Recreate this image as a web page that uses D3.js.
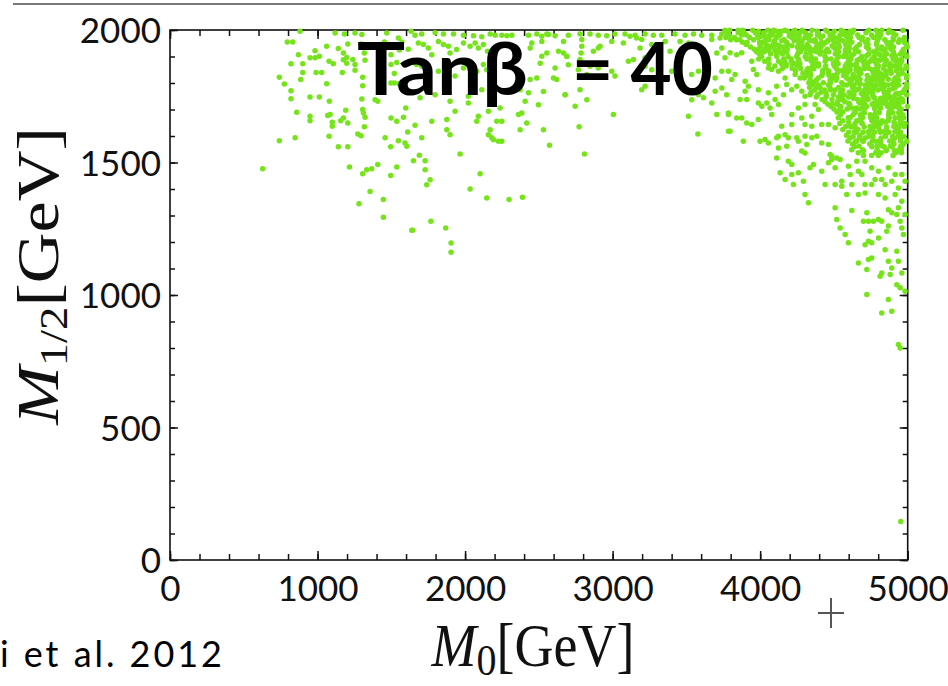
<!DOCTYPE html>
<html><head><meta charset="utf-8">
<script src="https://cdn.jsdelivr.net/npm/d3@7/dist/d3.min.js"></script>
<style>html,body{margin:0;padding:0;background:#fff}svg{display:block}</style>
</head><body>
<svg id="chart" width="948" height="686"></svg>
<script>
// ---------- data ----------
const xMajorTicks = [0, 1000, 2000, 3000, 4000, 5000];
const yMajorTicks = [0, 500, 1000, 1500, 2000];
const xMinorTicks = d3.range(0, 5001, 200);
const yMinorTicks = d3.range(0, 2001, 100);
const titleText = "Tanβ";
const titleValue = "= 40";
const citeText = "i et al. 2012";

// sparse cloud, left part [M0, M1/2]
const sparseLeft = [
[795,1955],[832,1955],[881,1995],[870,1907],[820,1873],[900,1873],[741,1822],[775,1796],[820,1771],[820,1741],[886,1813],[900,1840],[859,1690],[949,1747],[1012,1747],[949,1675],[949,1658],[741,1582],[848,1593],[628,1476],[949,1895],[983,1895],[1012,1901],[983,1922],[1062,1939],[1141,1930],[1175,1913],[1198,1896],[1175,1888],[1078,1882],[1107,1873],[990,1840],[1028,1840],[1062,1797],[1168,1840],[1254,1870],[1254,1848],[1239,1889],[1205,1947],[1119,1989],[1182,1985],[1300,1983],[1295,1947],[1317,1913],[1322,1886],[1306,1822],[1306,1790],[1300,1740],[1080,1731],[1069,1677],[1085,1681],[1100,1652],[1100,1637],[1157,1658],[1175,1668],[1191,1697],[1205,1649],[1078,1599],[1141,1559],[1205,1559],[1306,1700],[1322,1671],[1311,1687],[1317,1635],[1273,1608],[1295,1601],[1216,1483],[1306,1458],[1333,1473],[1367,1476],[1408,1492],[1356,1391],[1281,1344],[1446,1360],[1446,1293],[1496,1451],[1537,1483],[1458,1593],[1496,1559],[1548,1582],[1593,1574],[1605,1561],[1611,1615],[1498,1668],[1537,1656],[1582,1671],[1598,1706],[1650,1507],[1639,1244],[1390,1737],[1408,1731],[1520,1836],[1497,1800],[1520,1800],[1552,1797],[1498,1907],[1498,1870],[1537,1877],[1548,1970],[1571,1955],[1555,1925],[1453,1955],[1469,1989],[1634,1995],[1615,1927],[1254,1989],[1198,1875]
];
// sparse cloud, middle part
const sparseMid = [
[1661,1980],[1706,1985],[1797,1990],[1853,1985],[1921,1985],[1989,1980],[2057,1978],[2113,1975],[2170,1985],[2204,1980],[2249,1980],[2283,1978],[2317,1980],[2430,1980],[2486,1985],[2554,1985],[2610,1978],
[1683,1951],[1717,1945],[1751,1932],[1774,1907],[1819,1957],[1853,1945],[1887,1939],[1898,1913],[1943,1926],[1989,1951],[2034,1939],[2068,1951],[2090,1932],[2124,1945],[2152,1920],
[1672,1870],[1706,1863],[1819,1844],[1876,1882],[1932,1826],[1989,1857],[2079,1844],[2147,1850],[2124,1870],
[1695,1744],[1797,1756],[1898,1731],[2022,1725],[2022,1750],[2113,1775],[2237,1706],
[1932,1693],[1876,1662],[1876,1624],[1898,1605],[1774,1656],[1661,1641],[1706,1593],
[2090,1675],[2079,1656],[2158,1693],[2215,1656],[2249,1656],
[2170,1624],[2158,1605],[2192,1586],[2226,1580],[2249,1580],[2181,1593],
[2362,1681],[2384,1687],[2418,1649],[2373,1624],
[2407,1731],[2373,1775],[2430,1763],[2531,1624],[2572,1565],
[2497,1718],[2531,1768],[2486,1819],[2441,1813],[2599,1819],[2621,1813],[2678,1756],[2667,1913],[2689,1901],[2610,1857],[2509,1875],[2520,1901],
[2452,1951],[2441,1932],[2520,1976],[2520,1957],[2554,1913],[2633,1920],[2667,1957],[2565,1983],
[1966,1532],[1690,1527],[1729,1507],[1729,1473],[1763,1435],[1740,1416],
[2102,1458],[2034,1400],[2147,1366],[2298,1360],[2389,1369],
[1768,1278],[1869,1253],[1645,1244],[1905,1196],[1905,1161]
];
// sparse cloud, right-middle part
const sparseRight = [
[2700,1980],[2779,1985],[2847,1985],[2903,1980],[2960,1978],[3016,1985],[3084,1985],[3152,1980],[3220,1985],[3276,1980],[3333,1980],[3423,1985],[3491,1980],[3548,1985],[3604,1980],[3672,1980],[3740,1985],
[2791,1964],[2791,1939],[2786,1913],[2779,1889],[2870,1920],[2903,1932],[2915,1939],[2994,1957],[3073,1951],[3118,1976],[3163,1970],[3197,1964],[3186,1932],[3265,1945],[3356,1957],[3389,1920],[3457,1957],[3514,1951],[3559,1945],[3672,1964],[3728,1970],[3740,1932],[3706,1913],
[2689,1900],[2700,1869],[2768,1850],[2825,1832],[2847,1863],[2903,1857],[2994,1844],[3016,1826],[3107,1882],[3141,1889],[3220,1895],[3220,1863],[3265,1850],[3333,1819],[3401,1844],[3536,1832],[3582,1844],[3627,1794],[3695,1819],[3740,1844],[3762,1895],[3740,1781],[3695,1769],
[2678,1756],[2746,1712],[2825,1737],[2779,1775],[3197,1775],[3220,1788],[3536,1737],[3582,1756],[3616,1744],[3672,1725],[3706,1681],[3785,1687],[3785,1618],[3514,1675],[3578,1608],[3005,1681],[2773,1635],[2809,1532]
];
// sparse cloud around the dense corner
const sparseEdge = [
[3796,1914],[3841,1907],[3875,1914],[3785,1844],[3830,1832],[3807,1813],[3898,1807],[3943,1882],[3954,1851],[3977,1832],[3920,1788],[3898,1769],[3864,1738],[3909,1738],[3773,1756],[3785,1681],[3841,1668],[3875,1668],[3909,1649],[3943,1643],[3796,1618],[3886,1580],[3988,1662],[3999,1580],[4033,1587],[4056,1574],[3988,1725],[4011,1712],[4045,1725],[4067,1706],[4078,1681],[4101,1738],[4124,1719],[4056,1763],[4112,1788],[4158,1756],[4214,1775],[4248,1788],[4282,1769],[4180,1794],[3988,1775],[4078,1851],[4056,1857],[4124,1844],[4169,1819],[4237,1832],[4271,1819],[4304,1750],[4338,1756],[4372,1719],[4304,1719],[4259,1706],[4214,1681],[4282,1668],[4350,1675],[4395,1700],[4417,1643],[4350,1637],[4304,1643],[4214,1643],[4146,1637],[4124,1599],[4112,1593],[4169,1605],[4191,1593],[4248,1593],[4304,1599],[4350,1593],[4384,1599],[4316,1568],[4259,1580],[4282,1543],[4304,1536],[4180,1561],[4124,1555],[4112,1517],[4191,1505],[4214,1492],[4135,1461],[4169,1436],[4214,1455],[4259,1461],[4293,1429],[4225,1417],[4304,1379],[4327,1348],[4361,1492],[4338,1480],[4417,1467],[4440,1417],[4508,1417],[4553,1410],[4474,1530],[4485,1511],[4519,1517],[4417,1574],[4463,1568],[4508,1631],[4463,1643],
[4508,1329],[4519,1285],[4542,1253],[4576,1228],[4598,1197],[4621,1319],[4700,1278],[4734,1278],[4768,1278],[4802,1285],[4824,1278],[4723,1310],[4745,1241],[4869,1322],[4892,1310],[4937,1329],[4926,1304],[4869,1260],[4858,1241],[4802,1215],[4756,1197],[4711,1190],[4734,1203],[4666,1121],[4734,1134],[4756,1140],[4723,1096],[4824,1083],[4813,1071],[4869,1127],[4892,1102],[4881,1077],[4847,1171],[4926,1165],[4937,1127],[4960,1083],[4926,1039],[4949,1027],[4982,1014],[4869,983],[4723,1002],[4824,932],[4892,939],[4937,813],[4949,800],[4960,1253],[4971,1228],[4949,1278],[4982,1304],
[4610,1455],[4666,1467],[4689,1455],[4711,1417],[4756,1417],[4779,1436],[4824,1436],[4847,1417],[4892,1429],[4937,1404],[4621,1417],[4587,1379],[4666,1379],[4711,1385],[4802,1379],[4847,1366],[4915,1379],[4960,1354],[4553,1429],[4508,1480],[4463,1499],[4485,1524],[4542,1511],[4598,1486],[4655,1505],[4711,1505],[4756,1480],[4802,1467],[4869,1480],[4915,1455],[4960,1455],[4982,1429],
[4953,145]
];
// dense corner: rows of [M1/2, [M0 ...]]
const denseRows = [
[1999,[3762,3793,3851,3882,3949,4052,4092,4168,4235,4284,4351,4445,4548,4633,4736,4785,4825,4874,4968]],
[1990,[3775,3851,3891,3967,4025,4074,4123,4217,4266,4306,4391,4494,4561,4583,4623,4717,4811,4869,4900]],
[1981,[3790,3875,3906,3982,4085,4134,4237,4340,4389,4474,4541,4572,4594,4661,4755,4795,4817,4920]],
[1972,[3768,3826,3929,3987,4045,4112,4215,4255,4304,4326,4411,4505,4536,4612,4670,4692,4768,4808,4902,4978]],
[1963,[3800,3840,3862,3956,4059,4162,4256,4332,4372,4466,4488,4537,4595,4689,4729,4796,4845,4903,4943,4974]],
[1954,[3880,3911,3996,4018,4094,4179,4282,4376,4416,4447,4505,4599,4621,4715,4791,4858,4889,4938,4978]],
[1945,[3905,3999,4039,4088,4110,4186,4262,4320,4405,4427,4530,4579,4673,4731,4789,4865,4887,4990]],
[1936,[3935,4002,4069,4091,4158,4252,4292,4332,4381,4412,4497,4537,4604,4653,4720,4823,4881,4903,4997]],
[1927,[3960,3991,4031,4125,4183,4277,4308,4339,4370,4455,4513,4580,4602,4642,4736,4794,4825,4847,4887,4972]],
[1918,[3975,3997,4028,4131,4180,4274,4341,4381,4412,4443,4465,4532,4599,4666,4769,4845,4903,4961]],
[1909,[3995,4071,4111,4151,4254,4312,4406,4509,4576,4634,4737,4786,4808,4857,4951,4982]],
[1900,[4010,4113,4189,4247,4305,4345,4439,4533,4564,4586,4689,4774,4841,4917,4993]],
[1891,[3990,4057,4160,4209,4258,4316,4374,4450,4481,4521,4615,4673,4758,4825,4901,4959]],
[1882,[4030,4124,4164,4213,4262,4347,4441,4517,4602,4696,4745,4776,4852,4919,4959]],
[1873,[4060,4145,4176,4216,4238,4269,4372,4394,4497,4528,4586,4653,4729,4787,4881,4948]],
[1864,[4100,4176,4252,4355,4395,4444,4502,4578,4600,4649,4707,4801,4877,4908,4930,4988]],
[1855,[4150,4217,4275,4324,4364,4440,4516,4574,4668,4708,4739,4788,4837,4940,4989]],
[1846,[4240,4316,4338,4423,4463,4539,4561,4601,4659,4762,4793,4851,4882,4922]],
[1837,[4290,4339,4424,4464,4522,4589,4683,4768,4790,4812,4888,4964]],
[1828,[4320,4342,4418,4467,4498,4565,4632,4726,4820,4851,4936,4994]],
[1819,[4300,4394,4488,4519,4586,4626,4648,4751,4791,4813,4916,4992]],
[1810,[4340,4380,4474,4514,4617,4657,4724,4782,4804,4907,4938]],
[1801,[4330,4361,4428,4477,4553,4611,4660,4736,4821,4915]],
[1792,[4355,4395,4462,4565,4587,4636,4712,4734,4756,4787,4818,4867,4916,4938]],
[1783,[4335,4384,4406,4473,4531,4625,4719,4759,4781,4839,4915,4991]],
[1774,[4370,4437,4477,4508,4557,4651,4709,4740,4798,4874,4977]],
[1765,[4345,4412,4443,4546,4604,4635,4702,4733,4764,4840,4862,4965]],
[1756,[4390,4448,4497,4546,4568,4635,4720,4760,4845,4867,4916,4992]],
[1747,[4380,4447,4532,4599,4702,4769,4872,4903]],
[1738,[4420,4487,4536,4558,4661,4701,4732,4826,4902,4933,4964]],
[1729,[4440,4525,4574,4668,4699,4802,4851,4891,4967]],
[1720,[4460,4491,4522,4607,4710,4759,4790,4812,4879,4910,4941]],
[1711,[4480,4547,4605,4699,4721,4806,4864,4922,4998]],
[1702,[4500,4540,4589,4674,4777,4880,4956]],
[1691,[4520,4560,4645,4703,4806,4873,4949]],
[1680,[4545,4630,4679,4746,4777,4871,4965]],
[1669,[4530,4597,4682,4749,4789,4874,4914,4972]],
[1658,[4560,4654,4757,4788,4828,4868,4953]],
[1647,[4540,4643,4692,4786,4817,4911,4960,4982]],
[1636,[4580,4611,4642,4745,4803,4906,4937,4977]],
[1625,[4560,4663,4757,4806,4855,4931]],
[1614,[4600,4649,4698,4774,4814,4872,4930,4952]],
[1603,[4585,4676,4758,4849,4940]],
[1592,[4610,4674,4711,4820,4911,4948]],
[1581,[4595,4650,4696,4760,4878,4951]],
[1570,[4625,4743,4816,4907,4971]],
[1559,[4640,4758,4840,4895,4950]],
[1548,[4620,4693,4793,4857,4957]],
[1537,[4665,4783,4820,4920,4957]],
[1526,[4700,4755,4801,4901]]
];
// extra fill of the densest core, rows of [M1/2, [M0 ...]]
const denseCoreRows = [
[1995,[3990,4093,4115,4146,4186,4226,4284,4387,4454,4503,4561,4610]],
[1977,[4010,4032,4063,4121,4197,4264,4322,4425,4492,4586]],
[1959,[4030,4097,4146,4231,4262,4284,4351,4373,4458,4561]],
[1941,[4050,4090,4130,4215,4318,4394,4488,4591]],
[1923,[4060,4100,4167,4261,4364,4404,4453,4520,4578]],
[1904,[4620,4723,4817,4893,4915]],
[1886,[4600,4658,4707,4792,4814,4854,4939]],
[1868,[4620,4705,4727,4794,4843,4946]],
[1850,[4610,4650,4681,4766,4797,4882,4958]],
[1832,[4630,4670,4773,4822,4853,4938]],
[1814,[4600,4676,4761,4828,4868,4917]],
[1796,[4620,4678,4754,4839,4897,4991]],
[1778,[4640,4671,4765,4823,4899,4984]],
[1760,[4610,4686,4762,4865,4923,4945]],
[1742,[4630,4697,4728,4777,4817,4839,4861,4883,4950]],
[1724,[4600,4676,4770,4801,4841,4926]],
[1706,[4620,4651,4709,4776,4816,4892,4941]],
[1688,[4640,4707,4783,4805,4899,4939]],
[1670,[4610,4695,4780,4874,4941]],
[1652,[4600,4685,4770,4801,4850,4908,4948]],
[1634,[4620,4705,4772,4857,4942]],
[1616,[4640,4734,4837,4913,4935]],
[1598,[4630,4733,4764,4849,4898,4974]],
[1580,[4650,4699,4784,4815,4900,4994]],
[1562,[4670,4755,4795,4826,4884,4960]],
[1544,[4700,4794,4852,4910,4932]]
];

// ---------- drawing ----------
const svg = d3.select("#chart");
const x = d3.scaleLinear().domain([0, 5000]).range([170, 907.7]);
const y = d3.scaleLinear().domain([0, 2000]).range([560, 30]);
const tickFont = "Lato, 'Open Sans', sans-serif";
const serif = "'Liberation Serif', 'DejaVu Serif', serif";

// top grey rule
svg.append("line").attr("x1", 13).attr("x2", 948).attr("y1", 4).attr("y2", 4)
  .attr("stroke", "#7a7a7a").attr("stroke-width", 2);

// frame
svg.append("rect").attr("x", x(0)).attr("y", y(2000))
  .attr("width", x(5000) - x(0)).attr("height", y(0) - y(2000))
  .attr("fill", "none").attr("stroke", "#111").attr("stroke-width", 1.6);

function styleAxis(g) {
  g.select(".domain").remove();
  g.selectAll(".tick line").attr("stroke", "#111").attr("stroke-width", 1.5);
}
// minor ticks (all four sides, pointing inward)
svg.append("g").attr("transform", `translate(0,${y(0)})`)
  .call(d3.axisBottom(x).tickValues(xMinorTicks).tickSize(-6).tickFormat("")).call(styleAxis);
svg.append("g").attr("transform", `translate(0,${y(2000)})`)
  .call(d3.axisTop(x).tickValues(xMinorTicks).tickSize(-6).tickFormat("")).call(styleAxis);
svg.append("g").attr("transform", `translate(${x(0)},0)`)
  .call(d3.axisLeft(y).tickValues(yMinorTicks).tickSize(-5).tickFormat("")).call(styleAxis);
svg.append("g").attr("transform", `translate(${x(5000)},0)`)
  .call(d3.axisRight(y).tickValues(yMinorTicks).tickSize(-5).tickFormat("")).call(styleAxis);
// major ticks with labels
const gx = svg.append("g").attr("transform", `translate(0,${y(0)})`)
  .call(d3.axisBottom(x).tickValues(xMajorTicks).tickSize(-9).tickFormat(d3.format("d"))).call(styleAxis);
gx.selectAll("text").attr("y", 41).attr("dy", 0).attr("fill", "#111")
  .style("font-family", tickFont).style("font-size", "35px");
svg.append("g").attr("transform", `translate(0,${y(2000)})`)
  .call(d3.axisTop(x).tickValues(xMajorTicks).tickSize(-9).tickFormat("")).call(styleAxis);
const gy = svg.append("g").attr("transform", `translate(${x(0)},0)`)
  .call(d3.axisLeft(y).tickValues(yMajorTicks).tickSize(-8).tickFormat(d3.format("d"))).call(styleAxis);
gy.selectAll("text").attr("x", -9).attr("dy", "0.36em").attr("fill", "#111")
  .style("font-family", tickFont).style("font-size", "35px");
svg.append("g").attr("transform", `translate(${x(5000)},0)`)
  .call(d3.axisRight(y).tickValues(yMajorTicks).tickSize(-8).tickFormat("")).call(styleAxis);

// points
const pts = [...sparseLeft, ...sparseMid, ...sparseRight, ...sparseEdge];
[...denseRows, ...denseCoreRows].forEach(([m12, xs]) => xs.forEach(m0 => pts.push([m0, m12])));
svg.append("g").selectAll("circle").data(pts).join("circle")
  .attr("cx", d => x(d[0])).attr("cy", d => y(d[1])).attr("r", 2.75)
  .attr("fill", "#76e41a");

// in-plot title
svg.append("text").attr("x", 357).attr("y", 95).attr("textLength", 171).attr("lengthAdjust", "spacingAndGlyphs")
  .style("font-family", "Lato, 'Open Sans', sans-serif").style("font-weight", 700).style("font-size", "73px")
  .attr("fill", "#000").text(titleText);
svg.append("text").attr("x", 572).attr("y", 95).attr("textLength", 141).attr("lengthAdjust", "spacingAndGlyphs")
  .style("font-family", "Lato, 'Open Sans', sans-serif").style("font-weight", 700).style("font-size", "73px")
  .attr("fill", "#000").text(titleValue);

// axis titles (the reference is slightly stretched vertically)
const xt = svg.append("text").attr("transform", "translate(533,666) scale(1,1.12)").attr("text-anchor", "middle")
  .style("font-family", serif).style("font-size", "54px").attr("fill", "#111");
xt.append("tspan").style("font-style", "italic").text("M");
xt.append("tspan").attr("dy", 8).style("font-size", "40px").text("0");
xt.append("tspan").attr("dy", -8).text("[GeV]");

const yt = svg.append("text").attr("transform", "translate(58,276) rotate(-90) scale(1.17,1)").attr("text-anchor", "middle")
  .style("font-family", serif).style("font-size", "60px").attr("fill", "#111");
yt.append("tspan").style("font-style", "italic").text("M");
yt.append("tspan").attr("dy", 9).style("font-size", "40px").text("1/2");
yt.append("tspan").attr("dy", -9).text("[GeV]");

// citation fragment
svg.append("text").attr("x", 0).attr("y", 667).attr("textLength", 222).attr("lengthAdjust", "spacing")
  .style("font-family", "Lato, 'Open Sans', sans-serif").style("font-size", "36px").attr("fill", "#000")
  .text(citeText);

// plus marker
const plus = svg.append("g").attr("stroke", "#555").attr("stroke-width", 2);
plus.append("line").attr("x1", 818).attr("x2", 844).attr("y1", 613).attr("y2", 613);
plus.append("line").attr("x1", 831).attr("x2", 831).attr("y1", 598).attr("y2", 628);
</script>
</body></html>
